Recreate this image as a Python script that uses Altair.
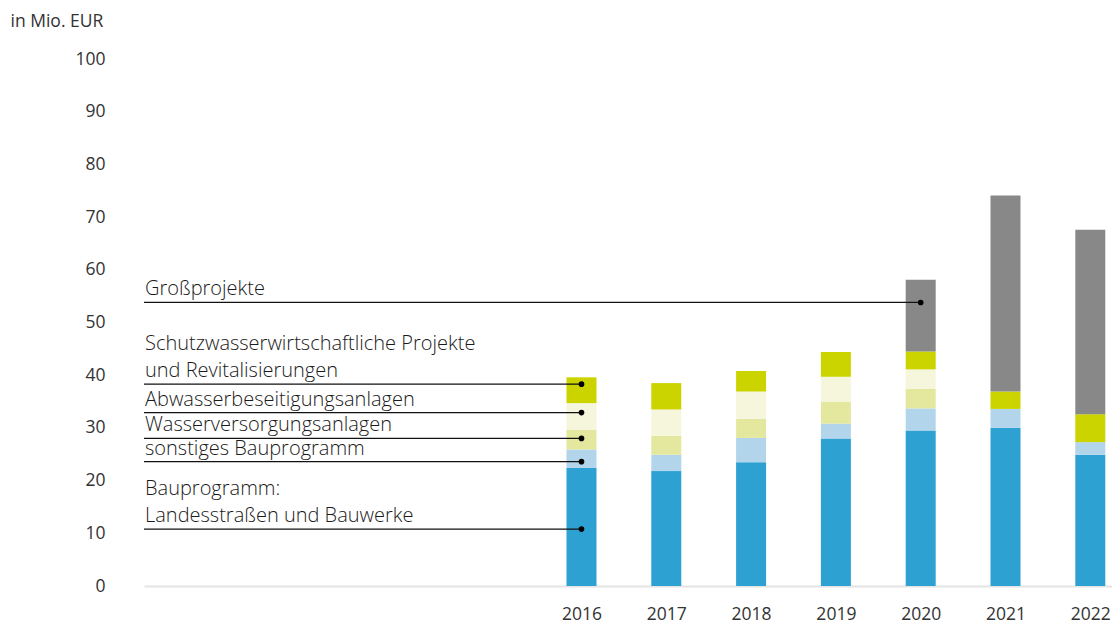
import altair as alt
import pandas as pd

years = [2016, 2017, 2018, 2019, 2020, 2021, 2022]
categories = [
    "Bauprogramm: Landesstraßen und Bauwerke",
    "sonstiges Bauprogramm",
    "Wasserversorgungsanlagen",
    "Abwasserbeseitigungsanlagen",
    "Schutzwasserwirtschaftliche Projekte und Revitalisierungen",
    "Großprojekte",
]
bau = [22.4, 21.8, 23.5, 28.0, 29.5, 30.0, 24.9]
sonst = [3.5, 3.1, 4.6, 2.8, 4.2, 3.6, 2.4]
wasser = [3.7, 3.6, 3.6, 4.2, 3.7, 0.0, 0.0]
abwasser = [5.1, 5.0, 5.2, 4.7, 3.7, 0.0, 0.0]
schutz = [4.9, 5.0, 3.9, 4.7, 3.4, 3.3, 5.3]
gross = [0.0, 0.0, 0.0, 0.0, 13.6, 37.2, 35.0]
colors = ["#2ea1d3", "#b3d5ec", "#e4e89e", "#f5f6dc", "#ccd400", "#888888"]

ann_labels = [
    ["Großprojekte"],
    ["Schutzwasserwirtschaftliche Projekte", "und Revitalisierungen"],
    ["Abwasserbeseitigungsanlagen"],
    ["Wasserversorgungsanlagen"],
    ["sonstiges Bauprogramm"],
    ["Bauprogramm:", "Landesstraßen und Bauwerke"],
]
ann_values = [53.8, 38.3, 32.9, 28.0, 23.6, 10.8]
ann_years = [2020, 2016, 2016, 2016, 2016, 2016]

series = [bau, sonst, wasser, abwasser, schutz, gross]
rows = []
for ci, (cat, vals) in enumerate(zip(categories, series)):
    for y, v in zip(years, vals):
        rows.append({"year": y, "cat": cat, "idx": ci, "value": v})
df = pd.DataFrame(rows)

ann = pd.DataFrame({"value": ann_values, "year": ann_years})

text_rows = []
for lines, v in zip(ann_labels, ann_values):
    n = len(lines)
    for i, t in enumerate(lines):
        text_rows.append({"label": t, "value": v, "fromBottom": n - 1 - i})
tdf = pd.DataFrame(text_rows)

FONT = "Open Sans"
xscale = alt.Scale(domain=[2010.9, 2022.197], nice=False, zero=False)
yscale = alt.Scale(domain=[0, 100], nice=False)

bars = alt.Chart(df).mark_bar(size=30).encode(
    x=alt.X(
        "year:Q",
        scale=xscale,
        axis=alt.Axis(
            values=years,
            format="d",
            title=None,
            grid=False,
            ticks=False,
            tickSize=0,
            domain=True,
            domainColor="#e4e4e4",
            domainWidth=2,
            labelFontSize=17.5,
            labelColor="#333333",
            labelPadding=19,
            labelFont=FONT,
        ),
    ),
    y=alt.Y(
        "value:Q",
        stack="zero",
        scale=yscale,
        axis=alt.Axis(
            values=list(range(0, 101, 10)),
            title="in Mio. EUR",
            titleAngle=0,
            titleAlign="left",
            titleBaseline="middle",
            titleX=-134,
            titleY=-38,
            titleFontSize=17.5,
            titleFontWeight="normal",
            titleColor="#333333",
            titleFont=FONT,
            grid=False,
            ticks=False,
            tickSize=0,
            domain=False,
            labelFontSize=17.5,
            labelColor="#333333",
            labelPadding=39,
            labelFont=FONT,
        ),
    ),
    color=alt.Color("cat:N", scale=alt.Scale(domain=categories, range=colors), legend=None),
    order=alt.Order("idx:Q", sort="ascending"),
)

rules = alt.Chart(ann).mark_rule(color="#111111", strokeWidth=1.3).encode(
    x=alt.X("year:Q", scale=xscale),
    x2=alt.value(0),
    y=alt.Y("value:Q", scale=yscale),
)

dots = alt.Chart(ann).mark_circle(color="#000000", opacity=1, size=32).encode(
    x=alt.X("year:Q", scale=xscale),
    y=alt.Y("value:Q", scale=yscale),
)

text_style = dict(
    align="left",
    baseline="bottom",
    fontSize=20,
    font=FONT,
    fontWeight=300,
    color="#1a1a1a",
)

texts0 = alt.Chart(tdf).transform_filter("datum.fromBottom == 0").mark_text(dy=-3, **text_style).encode(
    x=alt.value(1),
    y=alt.Y("value:Q", scale=yscale),
    text="label:N",
)
texts1 = alt.Chart(tdf).transform_filter("datum.fromBottom == 1").mark_text(dy=-30, **text_style).encode(
    x=alt.value(1),
    y=alt.Y("value:Q", scale=yscale),
    text="label:N",
)

chart = (
    alt.layer(bars, rules, dots, texts0, texts1)
    .properties(
        width=968,
        height=527,
        autosize=alt.AutoSizeParams(type="none"),
        padding={"left": 136, "top": 51, "right": 0, "bottom": 40},
        background="white",
    )
    .configure(font=FONT)
    .configure_view(stroke="transparent", strokeWidth=0)
)

chart.save("out.html", embed_options={"renderer": "svg", "actions": False})
